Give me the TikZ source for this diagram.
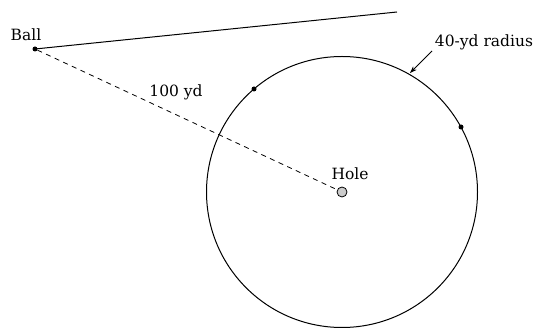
\documentclass[tikz,border=0pt]{standalone}
\usepackage{fontspec}
\setmainfont{DejaVu Serif}
\usetikzlibrary{arrows.meta}
\begin{document}
\begin{tikzpicture}[x=1pt,y=-1pt,
  lbl/.style={font=\fontsize{15.5}{18}\selectfont, inner sep=0pt},
  dotpt/.style={circle, fill=black, inner sep=0pt, minimum size=5pt}]
\useasboundingbox (0,0) rectangle (538,328);
\coordinate (C) at (342,192);
\draw[line width=1pt] (C) circle (135.5);
\node[dotpt] (ball) at (35,49) {};
\coordinate (far) at (397,12);
\draw[line width=1pt] (ball.center) -- (far);
\node[circle, draw, fill=gray!40, line width=0.8pt, inner sep=0pt, minimum size=10pt] (hole) at (C) {};
\draw[line width=0.8pt, dash pattern=on 5pt off 4.5pt] (ball) -- (hole);
\node[dotpt] (p1) at (254,89) {};
\node[dotpt] (p2) at (461,127) {};
\node[lbl] (balllbl) at (26,35) {Ball};
\node[lbl] (dist) at (176,92) {100 yd};
\node[lbl] (holelbl) at (350,174) {Hole};
\node[lbl] (rad) at (484,42) {40-yd radius};
\coordinate (tail) at (432,51);
\coordinate (tip) at (410,73);
\draw[-{Stealth[length=7pt,width=5pt]}, line width=0.8pt] (tail) -- (tip);
\end{tikzpicture}
\end{document}
